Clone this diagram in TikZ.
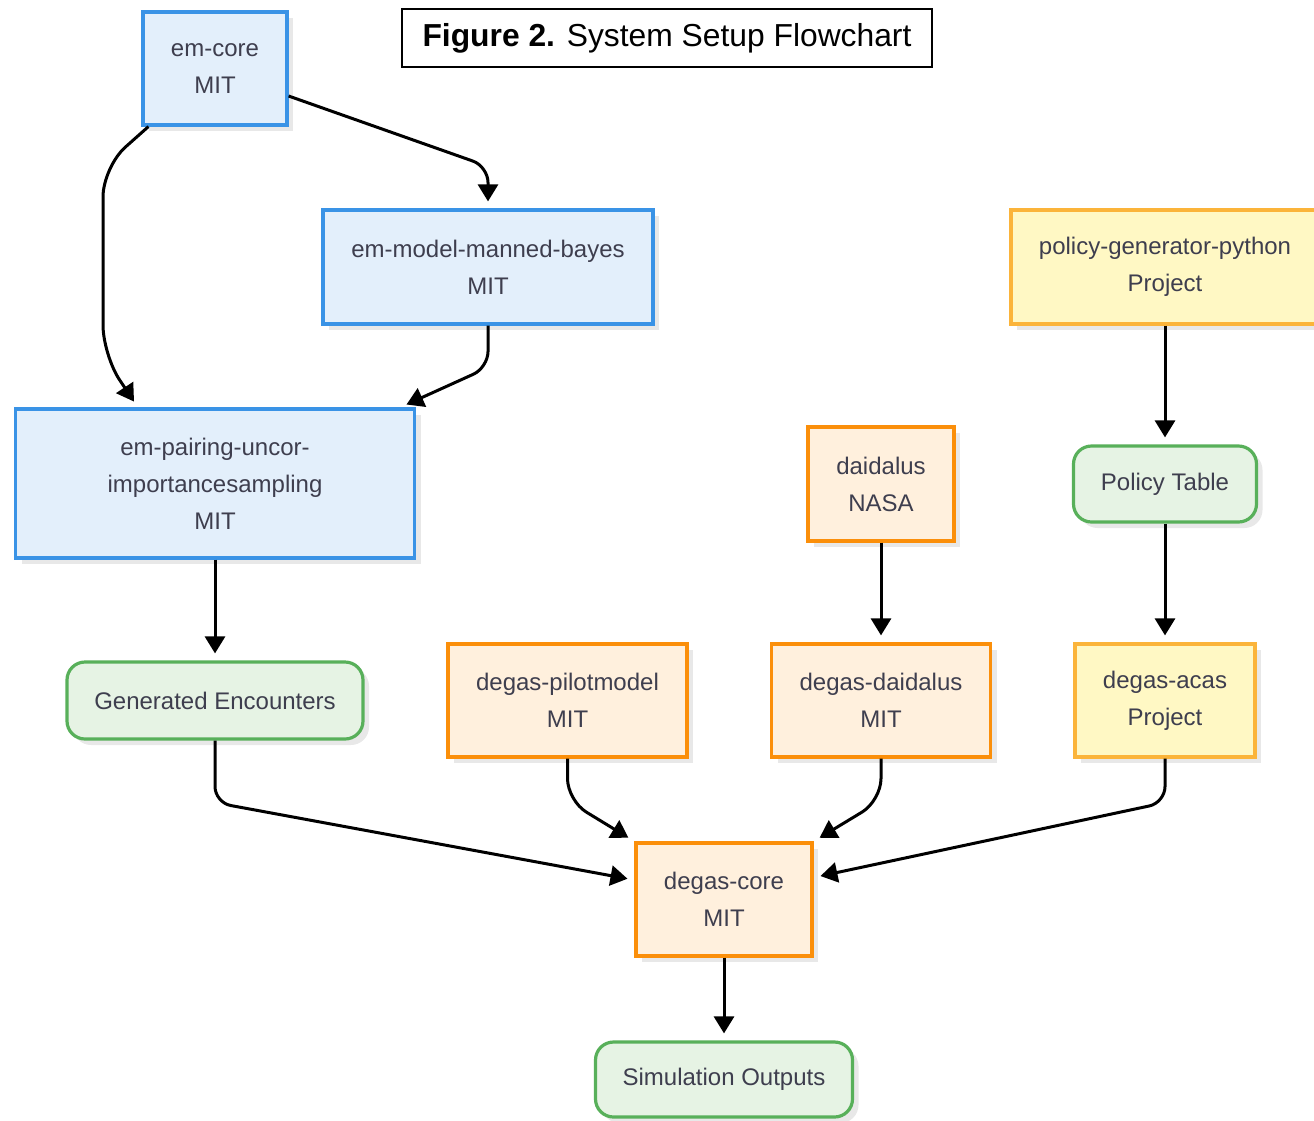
\documentclass[tikz,border=0pt]{standalone}
\usepackage{fontspec}
\setmainfont{Liberation Sans}
\usetikzlibrary{arrows.meta,shadows,calc}
\definecolor{blueF}{HTML}{E3EFFB}
\definecolor{blueB}{HTML}{3A93E6}
\definecolor{orangeF}{HTML}{FFF0DD}
\definecolor{orangeB}{HTML}{FB8F0A}
\definecolor{yellowF}{HTML}{FFF8C4}
\definecolor{yellowB}{HTML}{FBB43A}
\definecolor{greenF}{HTML}{E6F3E4}
\definecolor{greenB}{HTML}{58B05A}
\definecolor{txt}{HTML}{3E3E4E}
\begin{document}
\begin{tikzpicture}[x=1pt,y=-1pt,
  box/.style={draw, line width=3.2pt, align=center, text=txt, inner sep=0pt,
    font=\fontsize{24}{37}\selectfont,
    drop shadow={shadow xshift=6pt,shadow yshift=-6pt,fill=black,opacity=0.09}},
  bluebox/.style={box, draw=blueB, fill=blueF},
  orangebox/.style={box, draw=orangeB, fill=orangeF},
  yellowbox/.style={box, draw=yellowB, fill=yellowF},
  greenbox/.style={box, draw=greenB, fill=greenF, rounded corners=18pt},
  arr/.style={line width=3pt, -{Triangle[width=20pt,length=17pt]}, shorten >=7pt, rounded corners=18pt}
]
\useasboundingbox (0,0) rectangle (1314,1120);
\fill[white] (0,0) rectangle (1314,1120);

\node[draw, line width=2.6pt, minimum width=530pt, minimum height=58pt, inner sep=0pt,
  font=\fontsize{31.8}{36}\selectfont] (title) at (667,38) {\textbf{Figure 2.} System Setup Flowchart};

\node[bluebox, minimum width=144pt, minimum height=113pt] (emcore) at (215,68.5) {em-core\\MIT};
\node[bluebox, minimum width=330pt, minimum height=114pt] (model) at (488,267) {em-model-manned-bayes\\MIT};
\node[yellowbox, minimum width=308pt, minimum height=114pt] (policygen) at (1165,267) {policy-generator-python\\Project};
\node[bluebox, minimum width=399pt, minimum height=149pt] (pairing) at (215,483.5) {em-pairing-uncor-\\importancesampling\\MIT};
\node[orangebox, minimum width=146pt, minimum height=114pt] (daidalus) at (881,484) {daidalus\\NASA};
\node[greenbox, minimum width=183pt, minimum height=76pt] (policytable) at (1165,484) {Policy Table};
\node[greenbox, minimum width=296pt, minimum height=77pt] (genenc) at (215,700.5) {Generated Encounters};
\node[orangebox, minimum width=239pt, minimum height=113pt] (pilot) at (567.5,700.5) {degas-pilotmodel\\MIT};
\node[orangebox, minimum width=219pt, minimum height=113pt] (degasdaid) at (881,700.5) {degas-daidalus\\MIT};
\node[yellowbox, minimum width=180pt, minimum height=113pt] (acas) at (1165,700.5) {degas-acas\\Project};
\node[orangebox, minimum width=176pt, minimum height=113pt] (core) at (724,899.5) {degas-core\\MIT};
\node[greenbox, minimum width=257pt, minimum height=75pt] (simout) at (724,1079.5) {Simulation Outputs};

% connectors
\draw[arr, rounded corners=30pt] ($(emcore.south west)+(7,0)$) -- (103,167) -- (103,355) -- ($(pairing.north west)+(124,0)$);
\draw[arr, rounded corners=16pt] ($(emcore.east)+(0,27.5)$) -- ($(model.north)+(0,-42)$) -- (model.north);
\draw[arr, rounded corners=16pt] (model.south) -- ($(model.south)+(0,42)$) -- ($(pairing.north east)+(-16,0)$);
\draw[arr] (pairing.south) -- (genenc.north);
\draw[arr, rounded corners=16pt] (genenc.south) -- ($(genenc.south)+(0,62)$) -- ($(core.west)+(0,-19.5)$);
\draw[arr, rounded corners=22pt] (pilot.south) -- ($(pilot.south)+(0,42)$) -- (core.north west);
\draw[arr, rounded corners=22pt] (degasdaid.south) -- ($(degasdaid.south)+(0,42)$) -- (core.north east);
\draw[arr, rounded corners=16pt] (acas.south) -- ($(acas.south)+(0,44)$) -- ($(core.east)+(0,-22)$);
\draw[arr] (core.south) -- (simout.north);
\draw[arr] (policygen.south) -- (policytable.north);
\draw[arr] (policytable.south) -- (acas.north);
\draw[arr] (daidalus.south) -- (degasdaid.north);
\end{tikzpicture}
\end{document}
